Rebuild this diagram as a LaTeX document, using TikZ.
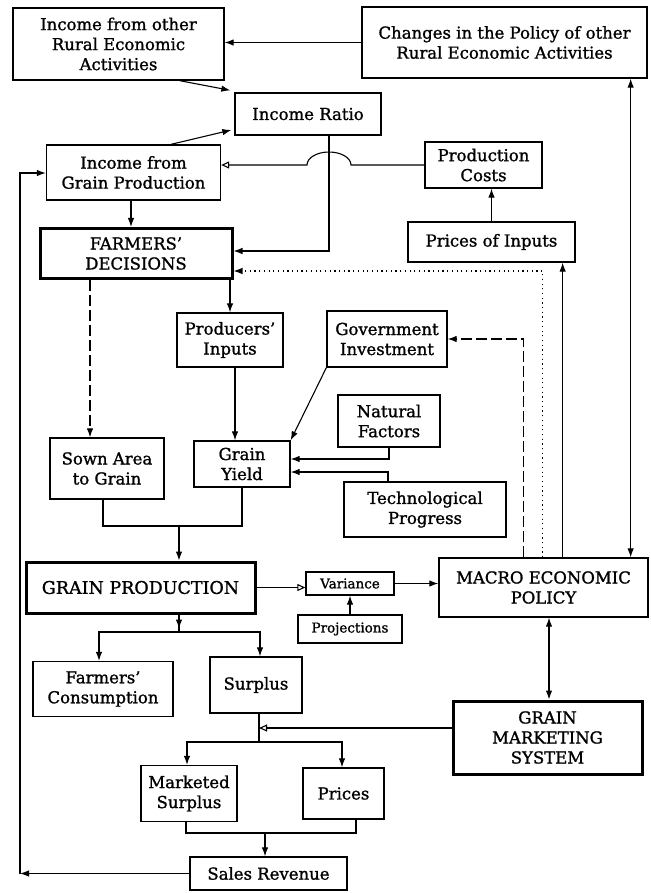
\documentclass[tikz,border=0pt]{standalone}
\usepackage{fontspec}
\setmainfont{DejaVu Serif}[FakeBold=1.2]
\usetikzlibrary{arrows.meta,calc}
\begin{document}
\begin{tikzpicture}[x=1pt,y=-1pt,
  box/.style={draw, line width=1.3pt, inner sep=0pt, align=center,
    font=\fontsize{16.5}{20}\selectfont},
  thickbox/.style={box, line width=3pt},
  smallbox/.style={box, font=\fontsize{13.5}{16}\selectfont},
  arr/.style={-{Latex[length=9pt,width=6.5pt]}, line width=1.1pt},
  openarr/.style={-{Triangle[open,length=8pt,width=7pt]}, line width=1.1pt},
  dblarr/.style={{Latex[length=9pt,width=6.5pt]}-{Latex[length=9pt,width=6.5pt]}, line width=1.1pt},
  dasharr/.style={arr, dash pattern=on 11pt off 4pt},
  dotarr/.style={arr, dash pattern=on 1.2pt off 3.5pt},
  plain/.style={line width=1.1pt}
]
\fill[white] (0,0) rectangle (650,893);
\useasboundingbox (0,0) rectangle (650,893);

% boxes
\node[box, minimum width=211pt, minimum height=72pt] (incother) at (118.5,44) {Income from other\\Rural Economic\\Activities};
\node[box, minimum width=285pt, minimum height=71pt] (changes) at (504.5,42.5) {Changes in the Policy of other\\Rural Economic Activities};
\node[box, minimum width=146pt, minimum height=42pt] (ratio) at (308,114) {Income Ratio};
\node[box, minimum width=174pt, minimum height=55pt] (incgrain) at (133.5,172.5) {Income from\\Grain Production};
\node[box, minimum width=117pt, minimum height=46pt] (prodcosts) at (483.5,165) {Production\\Costs};
\node[box, minimum width=167pt, minimum height=40pt] (pricesin) at (491.5,242) {Prices of Inputs};
\node[thickbox, minimum width=192pt, minimum height=50pt] (fd) at (136,253.5) {FARMERS'\\DECISIONS};
\node[box, minimum width=106pt, minimum height=54pt] (pi) at (230,340) {Producers'\\Inputs};
\node[box, minimum width=120pt, minimum height=56pt] (gov) at (387,339) {Government\\Investment};
\node[box, minimum width=102pt, minimum height=52pt] (nat) at (389,421) {Natural\\Factors};
\node[box, minimum width=114pt, minimum height=61pt] (sown) at (107,468.5) {Sown Area\\to Grain};
\node[box, minimum width=96pt, minimum height=46pt] (gy) at (242,464) {Grain\\Yield};
\node[box, minimum width=162pt, minimum height=55pt] (tech) at (425,509.5) {Technological\\Progress};
\node[thickbox, minimum width=229pt, minimum height=51pt, font=\fontsize{17.5}{20}\selectfont] (gp) at (140.5,587.5) {GRAIN PRODUCTION};
\node[smallbox, minimum width=88pt, minimum height=23pt] (var) at (350,583.5) {Variance};
\node[smallbox, minimum width=104pt, minimum height=28pt] (proj) at (350,629) {Projections};
\node[box, minimum width=209pt, minimum height=59pt] (macro) at (543.5,587.5) {MACRO ECONOMIC\\POLICY};
\node[box, minimum width=140pt, minimum height=55pt] (fc) at (103,689) {Farmers'\\Consumption};
\node[box, minimum width=92pt, minimum height=56pt] (surplus) at (256,685) {Surplus};
\node[thickbox, minimum width=189pt, minimum height=73pt] (gms) at (547.5,737.5) {GRAIN\\MARKETING\\SYSTEM};
\node[box, minimum width=96pt, minimum height=56pt] (ms) at (189,793.5) {Marketed\\Surplus};
\node[box, minimum width=81pt, minimum height=51pt] (prices) at (343.5,793.5) {Prices};
\node[box, minimum width=157pt, minimum height=33pt] (sr) at (268.5,873.5) {Sales Revenue};

\coordinate (lc) at (20,0);
\coordinate (j1) at (179,526);
\coordinate (j2) at (179,632);
\coordinate (j3) at (259,742);
\coordinate (j4) at (265,833);

% connectors
\draw[arr] (changes.west) -- (changes.west -| incother.east);
\draw[arr] ([xshift=-45pt]incother.south east) -- ([xshift=-4pt,yshift=2pt]ratio.north west);
\draw[arr] ([xshift=37.5pt]incgrain.north) -- ([xshift=-3pt,yshift=-16pt]ratio.west);
\draw[arr] ([xshift=21pt]ratio.south) |- ([yshift=2.5pt]fd.east);
\draw[openarr] (prodcosts.west) -- (351,165) arc[start angle=0,end angle=180,x radius=22pt,y radius=13pt] -- ([yshift=7.5pt]incgrain.east);
\draw[arr] ([xshift=-2.5pt]incgrain.south) -- ([xshift=-2.5pt]incgrain.south |- fd.north);
\draw[arr] (pricesin.north) -- (pricesin.north |- prodcosts.south);
\draw[dblarr] ([xshift=-18pt]macro.north east) -- ([xshift=-18pt]macro.north east |- changes.south);
\draw[arr] ([xshift=-86pt]macro.north east) -- ([xshift=-86pt]macro.north east |- pricesin.south);
\draw[dotarr] ([xshift=-106pt]macro.north east) |- ([yshift=-17.5pt]fd.east);
\draw[dasharr] ([xshift=-125pt]macro.north east) |- (gov.east);
\draw[dasharr] ([xshift=-46pt]fd.south) -- ([xshift=-46pt]fd.south |- sown.north);
\draw[arr] (pi.north |- fd.south) -- (pi.north);
\draw[arr] ([xshift=5pt]pi.south) -- ([xshift=5pt]pi.south |- gy.north);
\draw[arr] (gov.south west) -- (gy.north east);
\draw[arr] (nat.south) |- ([yshift=5pt]gy.east);
\draw[arr] ([xshift=-37pt]tech.north) |- ([yshift=-8pt]gy.east);
\draw[plain] ([xshift=-4pt]sown.south) |- (j1) -| (gy.south);
\draw[arr] (j1) -- (j1 |- gp.north);
\draw[openarr] (gp.east) -- (gp.east -| var.west);
\draw[arr] (var.east) -- (var.east -| macro.west);
\draw[arr] (proj.north) -- (var.south);
\draw[plain] (j2 |- gp.south) -- (j2);
\draw[arr] (j2 |- gp.south) -- ++(0,14);
\draw[arr] (j2) -| ([xshift=-4pt]fc.north);
\draw[arr] (j2) -| ([xshift=4pt]surplus.north);
\draw[plain] ([xshift=3pt]surplus.south) -- (j3);
\draw[arr] (j3) -| ([xshift=-2pt]ms.north);
\draw[arr] (j3) -| ([xshift=-1.5pt]prices.north);
\draw[openarr] ([yshift=9.5pt]gms.west) -- ([yshift=9.5pt]gms.west -| j3);
\draw[plain] ([xshift=-3pt]ms.south) |- (j4) -| ([xshift=12.5pt]prices.south);
\draw[arr] (j4) -- (j4 |- sr.north);
\draw[arr] (sr.west) -- (sr.west -| lc);
\draw[arr] (sr.west -| lc) |- ([yshift=-0.5pt]incgrain.west);
\draw[dblarr] ([xshift=1.5pt]gms.north |- macro.south) -- ([xshift=1.5pt]gms.north);
\end{tikzpicture}
\end{document}
